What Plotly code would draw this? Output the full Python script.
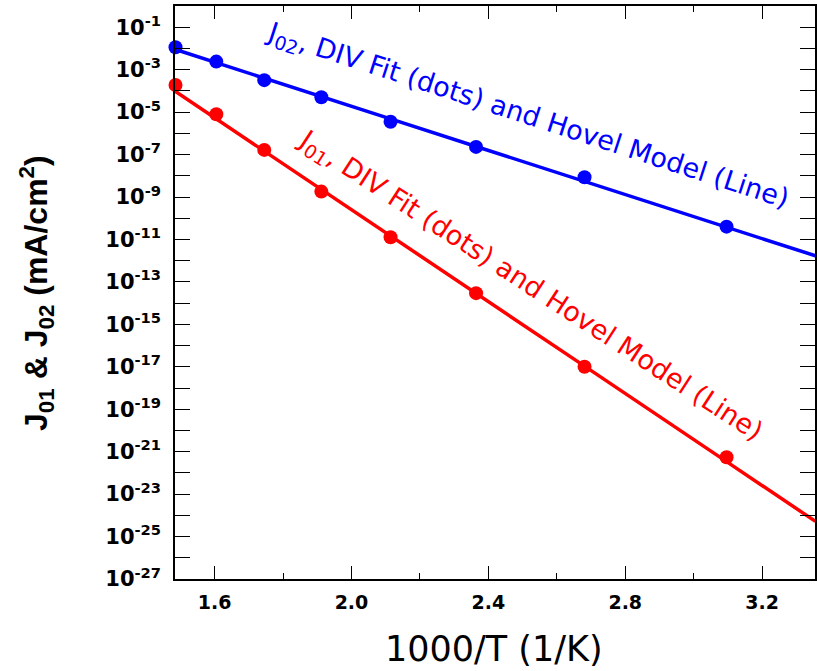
import plotly.graph_objects as go

# 1000/T (1/K) for T = 673, 623, 573, 523, 473, 423, 373, 323, 298 K
inv_T = [1.4859, 1.6051, 1.7452, 1.9120, 2.1142, 2.3641, 2.6810, 3.0960, 3.3557]

# J02: DIV fit (dots) and Hovel model (line), mA/cm^2
J02_fit = [1.14e-2, 2.4e-3, 3.2e-4, 5.0e-5, 3.5e-6, 2.3e-7, 8.5e-9, 4.0e-11, 1.3e-12]
J02_model = [8.9e-3, 2.1e-3, 4.0e-4, 5.4e-5, 4.8e-6, 2.4e-7, 5.4e-9, 3.7e-11, 1.7e-12]

# J01: DIV fit (dots) and Hovel model (line), mA/cm^2
J01_fit = [1.9e-4, 7.9e-6, 1.66e-7, 1.8e-9, 1.26e-11, 2.95e-14, 1.0e-17, 5.5e-22, 6.2e-25]
J01_model = [9.3e-5, 4.8e-6, 1.45e-7, 2.3e-9, 1.48e-11, 2.9e-14, 1.07e-17, 3.4e-22, 5.2e-25]

x_tick_vals = [1.6, 2.0, 2.4, 2.8, 3.2]
x_tick_text = ["1.6", "2.0", "2.4", "2.8", "3.2"]
y_label_exps = list(range(-27, 0, 2))
y_label_text = [f"10<sup>{k}</sup>" for k in y_label_exps]
y_minor_exps = list(range(-26, 1, 2))

BLUE = "#0000ff"
RED = "#ff0000"

fig = go.Figure()
fig.add_trace(go.Scatter(x=inv_T, y=J02_model, mode="lines",
                         line=dict(color=BLUE, width=3.5), cliponaxis=False))
fig.add_trace(go.Scatter(x=inv_T, y=J02_fit, mode="markers",
                         marker=dict(color=BLUE, size=14), cliponaxis=False))
fig.add_trace(go.Scatter(x=inv_T, y=J01_model, mode="lines",
                         line=dict(color=RED, width=3.5), cliponaxis=False))
fig.add_trace(go.Scatter(x=inv_T, y=J01_fit, mode="markers",
                         marker=dict(color=RED, size=14), cliponaxis=False))

fig.update_layout(
    width=817, height=671,
    margin=dict(l=175, r=0, t=6, b=92),
    paper_bgcolor="white", plot_bgcolor="white",
    showlegend=False,
    xaxis=dict(
        range=[1.4844, 3.3544],
        tickmode="array", tickvals=x_tick_vals, ticktext=x_tick_text,
        ticks="inside", ticklen=13, tickwidth=1, tickcolor="black",
        minor=dict(dtick=0.2, tick0=1.6, ticks="inside", ticklen=6,
                   tickwidth=1, tickcolor="black"),
        showline=True, linecolor="black", linewidth=1.5, mirror="ticks",
        showgrid=False, zeroline=False,
        tickfont=dict(family="DejaVu Sans", size=19, color="black", weight="bold"),
        ticklabelstandoff=5,
    ),
    yaxis=dict(
        type="log", range=[-27, 0],
        tickmode="array", tickvals=[10.0 ** k for k in y_label_exps],
        ticktext=y_label_text,
        ticks="inside", ticklen=15, tickwidth=1, tickcolor="black",
        minor=dict(tickmode="array", tickvals=[10.0 ** k for k in y_minor_exps],
                   ticks="inside", ticklen=15, tickwidth=1, tickcolor="black",
                   showgrid=False),
        showline=True, linecolor="black", linewidth=1.5, mirror="ticks",
        showgrid=False, zeroline=False,
        tickfont=dict(family="DejaVu Sans", size=21, color="black", weight="bold"),
        ticklabelstandoff=8,
    ),
    annotations=[
        dict(text="J<sub>02</sub>, DIV Fit (dots) and Hovel Model (Line)",
             xref="paper", yref="paper", x=0.55, y=0.808,
             xanchor="center", yanchor="middle", showarrow=False,
             textangle=18, font=dict(family="DejaVu Sans", size=27, color=BLUE)),
        dict(text="J<sub>01</sub>, DIV Fit (dots) and Hovel Model (Line)",
             xref="paper", yref="paper", x=0.5545, y=0.5096,
             xanchor="center", yanchor="middle", showarrow=False,
             textangle=33, font=dict(family="DejaVu Sans", size=27, color=RED)),
        dict(text="1000/T (1/K)",
             xref="paper", yref="paper", x=0.4977, y=-0.122,
             xanchor="center", yanchor="middle", showarrow=False,
             font=dict(family="DejaVu Sans", size=35, color="black")),
        dict(text="J<sub>01</sub> &amp; J<sub>02</sub> (mA/cm<sup>2</sup>)",
             xref="paper", yref="paper", x=-0.2165, y=0.5,
             xanchor="center", yanchor="middle", showarrow=False,
             textangle=-90,
             font=dict(family="Liberation Sans", size=32, color="black", weight="bold")),
    ],
)

fig.write_html(
    "out.html",
    config={"displayModeBar": False},
    post_script="document.body.style.margin='0';document.body.style.overflow='hidden';",
)
